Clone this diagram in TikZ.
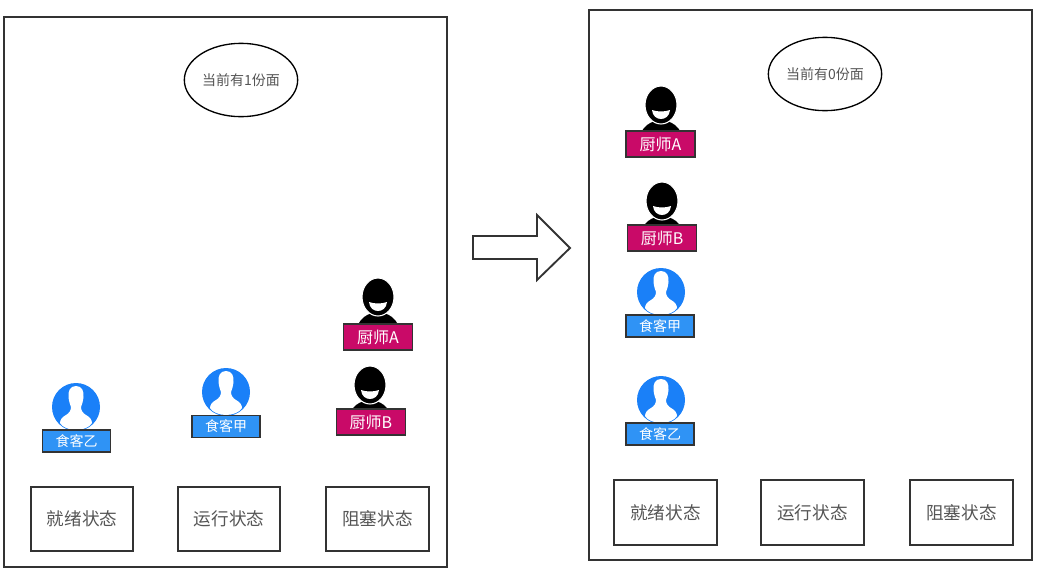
\documentclass[tikz,border=0pt]{standalone}
\usepackage{fontspec}
\setmainfont{Noto Sans CJK SC}
\usetikzlibrary{positioning, shapes.geometric}
\definecolor{rosered}{HTML}{C90A68}
\definecolor{skyblue}{HTML}{2F93F5}
\definecolor{avatarblue}{HTML}{1A80F8}
\definecolor{inkgray}{HTML}{333333}
\definecolor{textgray}{HTML}{555555}
\tikzset{
  panel/.style={draw=inkgray, line width=1.5pt, minimum width=332.25pt, minimum height=412.5pt},
  status/.style={draw=inkgray, line width=1.3pt, minimum width=77pt, minimum height=48.5pt, text=textgray, font=\fontsize{13.2}{15}\selectfont},
  stock/.style={draw=black, line width=1pt, ellipse, minimum width=85pt, minimum height=55pt, inner sep=0pt, text=textgray, font=\fontsize{10.5}{12}\selectfont},
  cooktag/.style={draw=inkgray, line width=1.2pt, fill=rosered, text=white, minimum width=52pt, minimum height=19.5pt, inner sep=0pt, font=\fontsize{12}{14}\selectfont},
  dinertag/.style={draw=inkgray, line width=1.2pt, fill=skyblue, text=white, minimum width=51pt, minimum height=16.5pt, inner sep=0pt, font=\fontsize{10.5}{12}\selectfont},
  pics/cook/.style={code={
    \fill[black] (-20,28) .. controls (-17,21) and (-12,18) .. (-6,16) -- (6,16)
      .. controls (12,18) and (17,21) .. (20,28) -- cycle;
    \fill[black, draw=white, line width=0.8pt] (0,0) ellipse [x radius=16, y radius=19];
    \fill[white] (-9,5) .. controls (-3,7) and (3,7) .. (9,5)
      .. controls (8,17) and (-8,17) .. (-9,5) -- cycle;
  }},
  pics/diner/.style={code={
    \fill[avatarblue] (0,0) circle [radius=24];
    \fill[white] (0,-21) .. controls (-6,-21) and (-8,-16) .. (-7.5,-10)
      .. controls (-7,-5) and (-6,-3) .. (-5,0)
      .. controls (-5,4) and (-7,6) .. (-10,8)
      .. controls (-14,10) and (-16,13) .. (-16,16)
      .. controls (-14,20) and (-7,23) .. (0,23)
      .. controls (7,23) and (14,20) .. (16,16)
      .. controls (16,13) and (14,10) .. (10,8)
      .. controls (7,6) and (5,4) .. (5,0)
      .. controls (6,-3) and (7,-5) .. (7.5,-10)
      .. controls (8,-16) and (6,-21) .. (0,-21) -- cycle;
  }},
}
\begin{document}
\begin{tikzpicture}[x=0.75pt, y=-0.75pt]
  \useasboundingbox (0,0) rectangle (1041,568);

  % left panel
  \node[panel] (leftpanel) at (225.5,292) {};
  \node[stock] (leftstock) at (241,80) {当前有1份面};
  \node[status] (leftready) at (82,519) {就绪状态};
  \node[status] (leftrun) at (229,519) {运行状态};
  \node[status] (leftblock) at (377.5,519) {阻塞状态};

  \pic (leftcooka) at (378,297) {cook};
  \node[cooktag] (leftcookatag) at (378,337) {厨师A};
  \pic (leftcookb) at (370,385) {cook};
  \node[cooktag] (leftcookbtag) at (371,422) {厨师B};
  \pic (leftdinery) at (76,407) {diner};
  \node[dinertag] (leftdinerytag) at (76.5,441) {食客乙};
  \pic (leftdinerj) at (226,392) {diner};
  \node[dinertag] (leftdinerjtag) at (226,426.5) {食客甲};

  % right panel
  \node[panel] (rightpanel) at (810.5,284.5) {};
  \node[stock] (rightstock) at (825,74) {当前有0份面};
  \node[status] (rightready) at (665.5,512.5) {就绪状态};
  \node[status] (rightrun) at (812.5,512.5) {运行状态};
  \node[status] (rightblock) at (961.5,512.5) {阻塞状态};

  \pic (rightcooka) at (661,105) {cook};
  \node[cooktag] (rightcookatag) at (660.5,144) {厨师A};
  \pic (rightcookb) at (662,201) {cook};
  \node[cooktag] (rightcookbtag) at (662,238) {厨师B};
  \pic (rightdinerj) at (661,292) {diner};
  \node[dinertag] (rightdinerjtag) at (660,326) {食客甲};
  \pic (rightdinery) at (661,400) {diner};
  \node[dinertag] (rightdinerytag) at (660,434) {食客乙};

  % arrow between the panels
  \draw[draw=inkgray, line width=1.4pt, line join=miter]
    (473,236) -- (537,236) -- (537,215) -- (570,248) -- (537,280) -- (537,259) -- (473,259) -- cycle;
\end{tikzpicture}
\end{document}
